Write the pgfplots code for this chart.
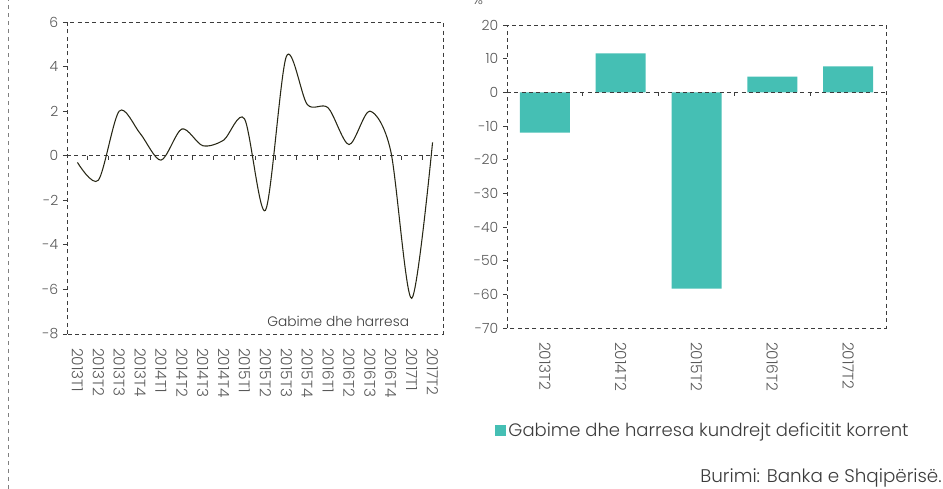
\documentclass[border=0pt]{standalone}
\usepackage{pgfplots}
\pgfplotsset{compat=1.18}
\usepackage{fontspec}
\setmainfont{Poppins}[UprightFont={* Light}]
\definecolor{barc}{RGB}{69,191,180}
\definecolor{linec}{RGB}{40,40,22}
\definecolor{tickc}{RGB}{89,89,89}
\definecolor{framec}{RGB}{60,60,60}

% errors and omissions, quarterly
\pgfplotstableread{
i val
0 -0.3
1 -1.1
2 2.0
3 1.0
4 -0.2
5 1.2
6 0.45
7 0.7
8 1.65
9 -2.45
10 4.45
11 2.3
12 2.15
13 0.5
14 2.0
15 0.2
16 -6.4
17 0.6
}\quarterly

% relative to current account deficit, %
\pgfplotstableread{
i val
0 -12
1 11.6
2 -58.3
3 4.7
4 7.7
}\annual

\pgfplotsset{
  every axis/.append style={
    scale only axis,
    axis line style={framec, dash pattern=on 3pt off 2.5pt, line width=0.6pt},
    tick style={framec, line width=0.6pt},
    major tick length=3pt,
    tick align=outside,
    ytick pos=left,
    xtick style={draw=none},
    yticklabel style={font=\fontsize{10.5}{12}\selectfont, text=tickc},
    xticklabel style={font=\fontsize{11.5}{12}\selectfont, text=tickc, rotate=-90, anchor=west, xshift=4pt},
    /pgf/number format/assume math mode=true,
  }
}

\begin{document}
\begin{tikzpicture}
\useasboundingbox (0,0) rectangle (707.25pt,366.75pt);
\draw[gray, dash pattern=on 3pt off 3pt, line width=0.6pt] (6pt,0) -- (6pt,366.75pt);

\begin{axis}[
  at={(50.25pt,116.25pt)}, anchor=south west,
  width=282pt, height=234pt,
  xmin=-0.5, xmax=17.5, ymin=-8, ymax=6,
  ytick={-8,-6,...,6},
  xtick={0,...,17},
  xticklabels={2013T1,2013T2,2013T3,2013T4,2014T1,2014T2,2014T3,2014T4,2015T1,2015T2,2015T3,2015T4,2016T1,2016T2,2016T3,2016T4,2017T1,2017T2},
]
\draw[framec, dash pattern=on 3pt off 2.5pt, line width=0.6pt] (axis cs:-0.5,0) -- (axis cs:17.5,0);
\pgfplotsinvokeforeach{0,...,16}{
  \draw[framec, line width=0.6pt] (axis cs:#1+0.5,0) -- ([yshift=-3pt]axis cs:#1+0.5,0);
}
\addplot[linec, line width=0.8pt, smooth, tension=0.5] table[x=i, y=val] {\quarterly};
\end{axis}
\node[anchor=base west, font=\fontsize{10.3}{12}\selectfont, text=framec, inner sep=0pt] at (200.25pt,121.5pt) {Gabime dhe harresa};

\begin{axis}[
  at={(380.25pt,120.75pt)}, anchor=south west,
  width=284.25pt, height=227.25pt,
  xmin=-0.5, xmax=4.5, ymin=-70, ymax=20,
  ytick={-70,-60,...,20},
  xtick={0,...,4},
  xticklabels={2013T2,2014T2,2015T2,2016T2,2017T2},
  ybar, bar width=37.5pt,
  legend style={at={(axis description cs:-0.033,-0.34)}, anchor=west, draw=none, fill=none,
    font=\fontsize{13.5}{16}\selectfont, text=framec, inner sep=0pt,
    /tikz/every even column/.style={column sep=0pt}},
  legend image code/.code={\fill[barc] (0pt,-4pt) rectangle (8.25pt,4.25pt);},
]
\addplot[fill=barc, draw=none, bar shift=0pt] table[x=i, y=val] {\annual};
\addlegendentry{Gabime dhe harresa kundrejt deficitit korrent}
\draw[framec, dash pattern=on 3pt off 2.5pt, line width=0.6pt] (axis cs:-0.5,0) -- (axis cs:4.5,0);
\pgfplotsinvokeforeach{0,...,3}{
  \draw[framec, line width=0.6pt] (axis cs:#1+0.5,0) -- ([yshift=-3pt]axis cs:#1+0.5,0);
}
\end{axis}
\node[anchor=base, font=\fontsize{10.5}{12}\selectfont, text=tickc] at (358.5pt,363pt) {\%};
\node[anchor=base east, font=\fontsize{13.75}{16}\selectfont, text=framec, inner sep=0pt] at (706.5pt,4.5pt) {Burimi: Banka e Shqipërisë.};
\end{tikzpicture}
\end{document}
